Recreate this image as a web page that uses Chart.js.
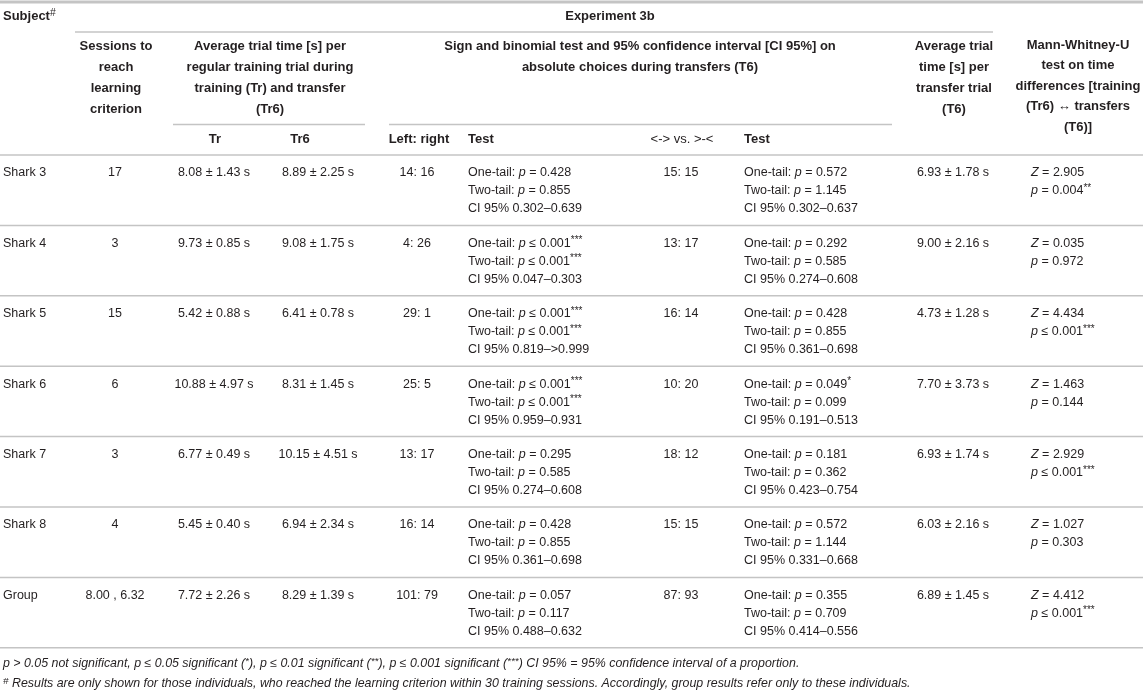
<!DOCTYPE html>
<html>
<head>
<meta charset="utf-8">
<script src="https://cdn.jsdelivr.net/npm/chart.js@4.4.1/dist/chart.umd.min.js"></script>
<style>
  html, body { margin: 0; padding: 0; background: #fff; }
  #wrap { width: 1143px; height: 692px; }
</style>
</head>
<body>
<div id="wrap"><canvas id="tbl"></canvas></div>
<script>
// values read off the table (Experiment 3b)
// markup inside strings: ~ toggles italic, ^ toggles superscript
const subjects = ['Shark 3', 'Shark 4', 'Shark 5', 'Shark 6', 'Shark 7', 'Shark 8', 'Group'];
const sessions = ['17', '3', '15', '6', '3', '4', '8.00 , 6.32'];
const trialTr = ['8.08 ± 1.43 s', '9.73 ± 0.85 s', '5.42 ± 0.88 s', '10.88 ± 4.97 s', '6.77 ± 0.49 s', '5.45 ± 0.40 s', '7.72 ± 2.26 s'];
const trialTr6 = ['8.89 ± 2.25 s', '9.08 ± 1.75 s', '6.41 ± 0.78 s', '8.31 ± 1.45 s', '10.15 ± 4.51 s', '6.94 ± 2.34 s', '8.29 ± 1.39 s'];
const leftRight = ['14: 16', '4: 26', '29: 1', '25: 5', '13: 17', '16: 14', '101: 79'];
const sideOneTail = ['= 0.428', '≤ 0.001^***', '≤ 0.001^***', '≤ 0.001^***', '= 0.295', '= 0.428', '= 0.057'];
const sideTwoTail = ['= 0.855', '≤ 0.001^***', '≤ 0.001^***', '≤ 0.001^***', '= 0.585', '= 0.855', '= 0.117'];
const sideCI = ['0.302–0.639', '0.047–0.303', '0.819–>0.999', '0.959–0.931', '0.274–0.608', '0.361–0.698', '0.488–0.632'];
const shapeCounts = ['15: 15', '13: 17', '16: 14', '10: 20', '18: 12', '15: 15', '87: 93'];
const shapeOneTail = ['= 0.572', '= 0.292', '= 0.428', '= 0.049^*', '= 0.181', '= 0.572', '= 0.355'];
const shapeTwoTail = ['= 1.145', '= 0.585', '= 0.855', '= 0.099', '= 0.362', '= 1.144', '= 0.709'];
const shapeCI = ['0.302–0.637', '0.274–0.608', '0.361–0.698', '0.191–0.513', '0.423–0.754', '0.331–0.668', '0.414–0.556'];
const trialT6 = ['6.93 ± 1.78 s', '9.00 ± 2.16 s', '4.73 ± 1.28 s', '7.70 ± 3.73 s', '6.93 ± 1.74 s', '6.03 ± 2.16 s', '6.89 ± 1.45 s'];
const mwZ = ['2.905', '0.035', '4.434', '1.463', '2.929', '1.027', '4.412'];
const mwP = ['= 0.004^**', '= 0.972', '≤ 0.001^***', '= 0.144', '≤ 0.001^***', '= 0.303', '≤ 0.001^***'];

// header texts
const headSubject = 'Subject^#';
const headExperiment = 'Experiment 3b';
const headSessions = ['Sessions to', 'reach', 'learning', 'criterion'];
const headTrial = ['Average trial time [s] per', 'regular training trial during', 'training (Tr) and transfer', '(Tr6)'];
const headSign = ['Sign and binomial test and 95% confidence interval [CI 95%] on', 'absolute choices during transfers (T6)'];
const headTransfer = ['Average trial', 'time [s] per', 'transfer trial', '(T6)'];
const headMW = ['Mann-Whitney-U', 'test on time', 'differences [training', '(Tr6) ↔ transfers', '(T6)]'];
const subHeads = ['Tr', 'Tr6', 'Left: right', 'Test', '<-> vs. >-<', 'Test'];
const footnotes = [
  'p > 0.05 not significant, p ≤ 0.05 significant (^*^), p ≤ 0.01 significant (^**^), p ≤ 0.001 significant (^***^) CI 95% = 95% confidence interval of a proportion.',
  '^#^ Results are only shown for those individuals, who reached the learning criterion within 30 training sessions. Accordingly, group results refer only to these individuals.'
];

// layout (scale units = pixels of the 1143 x 692 page)
const W = 1143, H = 692;
const TEXT = '#231f20', RULE = '#c4c4c4';
const FAMILY = '"Liberation Sans", Arial, Helvetica, sans-serif';
const NARROW = '"Liberation Sans Narrow", "Liberation Sans", Arial, sans-serif';
const headBottom = 155, rowStep = 70.4, lineStep = 18, firstLine = 18;

const bodyCols = [
  { x: 3,    align: 'left',   lines: i => [subjects[i]] },
  { x: 115,  align: 'center', lines: i => [sessions[i]] },
  { x: 214,  align: 'center', lines: i => [trialTr[i]] },
  { x: 318,  align: 'center', lines: i => [trialTr6[i]] },
  { x: 417,  align: 'center', lines: i => [leftRight[i]] },
  { x: 468,  align: 'left',   lines: i => ['One-tail: ~p~ ' + sideOneTail[i], 'Two-tail: ~p~ ' + sideTwoTail[i], 'CI 95% ' + sideCI[i]] },
  { x: 681,  align: 'center', lines: i => [shapeCounts[i]] },
  { x: 744,  align: 'left',   lines: i => ['One-tail: ~p~ ' + shapeOneTail[i], 'Two-tail: ~p~ ' + shapeTwoTail[i], 'CI 95% ' + shapeCI[i]] },
  { x: 953,  align: 'center', lines: i => [trialT6[i]] },
  { x: 1031, align: 'left',   lines: i => ['~Z~ = ' + mwZ[i], '~p~ ' + mwP[i]] }
];

const headCells = [
  { x: 3,    y: 16, step: 0,  align: 'left',   lines: [headSubject] },
  { x: 610,  y: 16, step: 0,  align: 'center', lines: [headExperiment] },
  { x: 116,  y: 46, step: 21, align: 'center', lines: headSessions },
  { x: 270,  y: 46, step: 21, align: 'center', lines: headTrial },
  { x: 640,  y: 46, step: 21, align: 'center', lines: headSign },
  { x: 954,  y: 46, step: 21, align: 'center', lines: headTransfer },
  { x: 1078, y: 45, step: 20.5, align: 'center', lines: headMW }
];
const subCells = [
  { x: 215, align: 'center' }, { x: 300, align: 'center' }, { x: 419, align: 'center' },
  { x: 468, align: 'left' }, { x: 682, align: 'center', normal: true }, { x: 744, align: 'left' }
];

const rules = [
  { y: 2, x0: 0, x1: W, w: 3 },
  { y: 32, x0: 75, x1: 993, w: 1.5 },
  { y: 124.5, x0: 173, x1: 365, w: 1.5 },
  { y: 124.5, x0: 389, x1: 892, w: 1.5 },
  { y: headBottom, x0: 0, x1: W, w: 1.5 }
];
subjects.forEach((s, i) => rules.push({ y: headBottom + rowStep * (i + 1), x0: 0, x1: W, w: 1.5 }));

// build datasets
const datasets = [];
rules.forEach(r => datasets.push({
  type: 'line', data: [{ x: r.x0, y: r.y }, { x: r.x1, y: r.y }],
  borderColor: RULE, borderWidth: r.w, pointRadius: 0, clip: false
}));

function textSet(points, cell) {
  return { type: 'scatter', data: points, pointRadius: 0, cell: cell, clip: false };
}

bodyCols.forEach(col => {
  const pts = [];
  subjects.forEach((s, i) => {
    col.lines(i).forEach((t, k) => pts.push({ x: col.x, y: headBottom + rowStep * i + firstLine + k * lineStep, text: t }));
  });
  datasets.push(textSet(pts, { align: col.align, size: 12.5, bold: false, family: FAMILY }));
});

headCells.forEach(h => {
  const pts = h.lines.map((t, k) => ({ x: h.x, y: h.y + k * h.step, text: t }));
  datasets.push(textSet(pts, { align: h.align, size: 13, bold: true, family: FAMILY }));
});

subHeads.forEach((t, i) => {
  const c = subCells[i];
  datasets.push(textSet([{ x: c.x, y: 139, text: t }], { align: c.align, size: 13, bold: !c.normal, family: FAMILY }));
});

datasets.push(textSet([
  { x: 3, y: 664, text: footnotes[0] },
  { x: 3, y: 684, text: footnotes[1] }
], { align: 'left', size: 12.4, bold: false, italicBase: true, family: NARROW }));

// rich text drawing
function parse(str, italicBase) {
  const out = [];
  let italic = !!italicBase, sup = false, buf = '';
  for (const ch of str) {
    if (ch === '~' || ch === '^') {
      if (buf) out.push({ t: buf, italic, sup });
      buf = '';
      if (ch === '~') italic = !italic; else sup = !sup;
    } else buf += ch;
  }
  if (buf) out.push({ t: buf, italic, sup });
  return out;
}

function fontFor(seg, cell) {
  const size = seg.sup ? cell.size * 0.8 : cell.size;
  return (seg.italic ? 'italic ' : '') + (cell.bold && !seg.sup ? 'bold ' : '') + size + 'px ' + cell.family;
}

function drawRich(ctx, str, x, y, cell) {
  const segs = parse(str, cell.italicBase);
  let total = 0;
  segs.forEach(s => { ctx.font = fontFor(s, cell); s.w = ctx.measureText(s.t).width; total += s.w; });
  let cx = cell.align === 'center' ? x - total / 2 : x;
  segs.forEach(s => {
    ctx.font = fontFor(s, cell);
    ctx.fillText(s.t, cx, s.sup ? y - cell.size * 0.22 : y);
    cx += s.w;
  });
}

const tablePlugin = {
  id: 'tableText',
  afterDatasetsDraw(chart) {
    const ctx = chart.ctx;
    ctx.save();
    ctx.fillStyle = TEXT;
    ctx.textBaseline = 'middle';
    ctx.textAlign = 'left';
    chart.data.datasets.forEach((ds, i) => {
      if (!ds.cell) return;
      chart.getDatasetMeta(i).data.forEach((pt, j) => drawRich(ctx, ds.data[j].text, pt.x, pt.y, ds.cell));
    });
    ctx.restore();
  }
};

new Chart(document.getElementById('tbl'), {
  type: 'scatter',
  data: { datasets: datasets },
  options: {
    responsive: true,
    maintainAspectRatio: false,
    animation: false,
    events: [],
    layout: { padding: 0 },
    plugins: { legend: { display: false }, tooltip: { enabled: false } },
    scales: {
      x: { type: 'linear', min: 0, max: W, display: false },
      y: { type: 'linear', min: 0, max: H, reverse: true, display: false }
    }
  },
  plugins: [tablePlugin]
});
</script>
</body>
</html>
